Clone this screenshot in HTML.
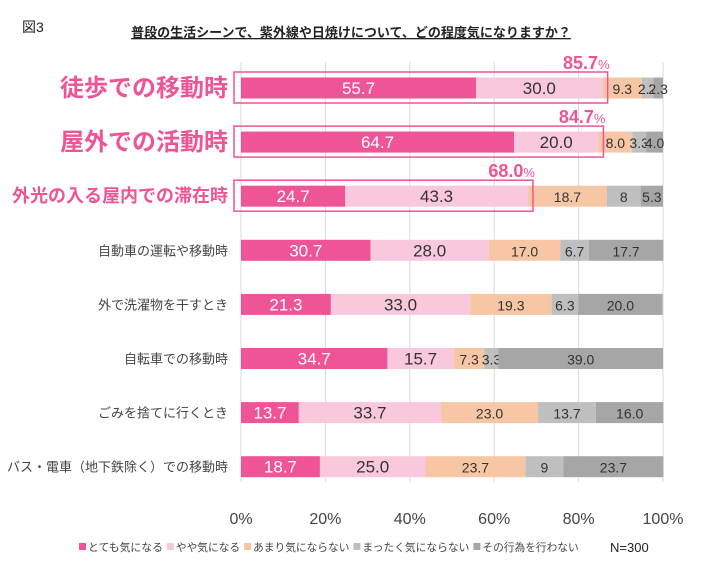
<!DOCTYPE html>
<html><head><meta charset="utf-8"><style>
body{margin:0;background:#fff;width:701px;height:566px;overflow:hidden;font-family:"Liberation Sans","Noto Sans CJK JP",sans-serif}
</style></head><body>
<svg id="c" width="701" height="566" xmlns="http://www.w3.org/2000/svg" font-family="Liberation Sans, Noto Sans CJK JP, sans-serif"></svg>
<script>
const categories=["徒歩での移動時","屋外での活動時","外光の入る屋内での滞在時","自動車の運転や移動時","外で洗濯物を干すとき","自転車での移動時","ごみを捨てに行くとき","バス・電車（地下鉄除く）での移動時"];
const s1=[55.7,64.7,24.7,30.7,21.3,34.7,13.7,18.7];
const s2=[30.0,20.0,43.3,28.0,33.0,15.7,33.7,25.0];
const s3=[9.3,8.0,18.7,17.0,19.3,7.3,23.0,23.7];
const s4=[2.7,3.3,8,6.7,6.3,3.3,13.7,9];
const s5=[2.3,4.0,5.3,17.7,20.0,39.0,16.0,23.7];
const s2labels=["30.0","20.0","43.3","28.0","33.0","15.7","33.7","25.0"];
const s3labels=["9.3","8.0","18.7","17.0","19.3","7.3","23.0","23.7"];
const s4labels=["2.7","3.3","8","6.7","6.3","3.3","13.7","9"];
const s5labels=["2.3","4.0","5.3","17.7","20.0","39.0","16.0","23.7"];
const highlightTotals=["85.7","84.7","68.0"];
const ticks=[0,20,40,60,80,100];
const legendNames=["とても気になる","やや気になる","あまり気にならない","まったく気にならない","その行為を行わない"];
const colors=["#EE5496","#F9C8DD","#F7C6A5","#BFBFBF","#A6A6A6"];
const svg=document.getElementById('c');const NS="http://www.w3.org/2000/svg";
const x=v=>241+v*4.22;const yc=i=>88+i*54.1;
function mk(t,a,txt){const e=document.createElementNS(NS,t);for(const k in a)e.setAttribute(k,a[k]);if(txt!=null)e.textContent=txt;svg.appendChild(e);return e;}
let e=mk('text',{x:22,y:32,'font-size':14,fill:'#222'},'図3');


e=mk('text',{x:351,y:37,'font-size':13,'font-weight':'bold','text-anchor':'middle',fill:'#222','text-decoration':'underline'},'普段の生活シーンで、紫外線や日焼けについて、どの程度気になりますか？');


ticks.forEach(t=>{
 e=mk('line',{x1:x(t),x2:x(t),y1:62,y2:482,stroke:'#d9d9d9'});
 
 
 e=mk('text',{x:x(t),y:524,'font-size':16,'text-anchor':'middle',fill:'#444'},t+'%');
 
 
});
const series=[s1,s2,s3,s4,s5];const labs=[null,s2labels,s3labels,s4labels,s5labels];
categories.forEach((c,i)=>{
 let cum=0;
 series.forEach((s,k)=>{
  const v=s[i];
  e=mk('rect',{x:x(cum),y:yc(i)-10.5,width:v*4.22,height:21,fill:colors[k]});
  
  
  const big=i<3;
  const lab=k==0?s1[i].toFixed(1):labs[k][i];
  e=mk('text',{x:x(cum+v/2),y:yc(i)+6,'font-size':k<2?17:14,'text-anchor':'middle',fill:k==0?'#fff':'#333'},lab);
  
  
  cum+=v;
 });
 const big=i<2,mid=i==2;
 e=mk('text',{x:228,y:yc(i)+(big?8:mid?6:5),'font-size':big?24:mid?18:13,'font-weight':(big||mid)?'bold':'normal','text-anchor':'end',fill:(big||mid)?'#EE5496':'#444'},c);
 
 
});
highlightTotals.forEach((t,i)=>{
 const v=parseFloat(t);
 e=mk('rect',{x:234,y:yc(i)-16,width:x(v)+5-234,height:31,fill:'none',stroke:'#EE5496','stroke-width':1.5});
 
 
 const tx=mk('text',{x:x(v)+7,y:yc(i)-19,'font-size':18,'font-weight':'bold','text-anchor':'end',fill:'#EE5496'});
 tx.innerHTML=t+'<tspan font-size="13" font-weight="normal">%</tspan>';
 
 
});
let lx=79;
legendNames.forEach((n,k)=>{
 e=mk('rect',{x:lx,y:543,width:7,height:7,fill:colors[k]});
 
 
 const w=n.length*10.7;
 const t=mk('text',{x:lx+9,y:551,'font-size':11,fill:'#444',textLength:w,lengthAdjust:'spacingAndGlyphs'},n);
 
 
 lx+=9+w+4;
});
e=mk('text',{x:610,y:552,'font-size':13,fill:'#222'},'N=300');


</script>
</body></html>
